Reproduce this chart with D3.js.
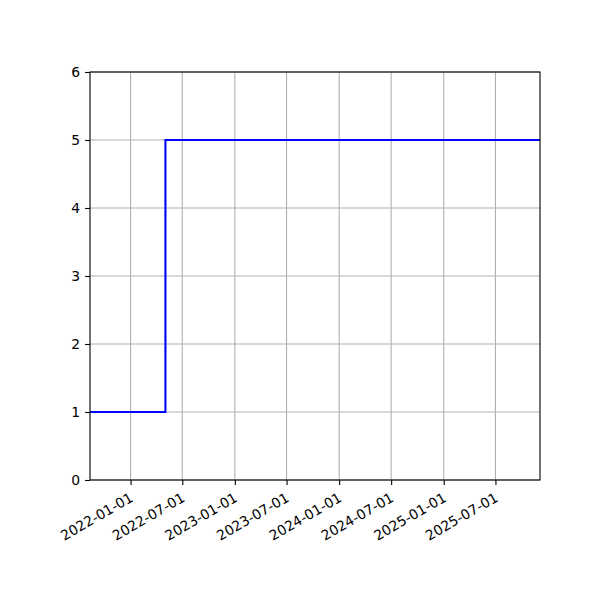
<!DOCTYPE html>
<html>
<head>
<meta charset="utf-8">
<script src="https://cdn.jsdelivr.net/npm/d3@7.9.0/dist/d3.min.js"></script>
<style>
  body { margin: 0; background: #fff; }
  svg text { font-family: "DejaVu Sans", sans-serif; font-size: 13.9px; fill: #000; }
</style>
</head>
<body>
<svg id="chart" width="600" height="600"></svg>
<script>
const dates = ["2021-08-12", "2022-05-03", "2025-12-04"];
const values = [1, 5, 5];
const xTicks = ["2022-01-01", "2022-07-01", "2023-01-01", "2023-07-01",
  "2024-01-01", "2024-07-01", "2025-01-01", "2025-07-01"];
const yTicks = [0, 1, 2, 3, 4, 5, 6];

const parse = d3.utcParse("%Y-%m-%d");
const points = dates.map((d, i) => ({ date: parse(d), value: values[i] }));

const margin = { top: 72, right: 60, bottom: 120, left: 90 };
const width = 600 - margin.left - margin.right;
const height = 600 - margin.top - margin.bottom;

const svg = d3.select("#chart");
const g = svg.append("g").attr("transform", `translate(${margin.left},${margin.top})`);

const x = d3.scaleUtc()
  .domain([points[0].date, points[points.length - 1].date])
  .range([0, width]);
const y = d3.scaleLinear().domain([0, 6]).range([height, 0]);

const tickDates = xTicks.map(parse);

// grid
g.append("g")
  .selectAll("line")
  .data(tickDates)
  .join("line")
  .attr("x1", (d) => x(d)).attr("x2", (d) => x(d))
  .attr("y1", 0).attr("y2", height)
  .attr("stroke", "#b0b0b0").attr("stroke-width", 1.1);

g.append("g")
  .selectAll("line")
  .data(yTicks)
  .join("line")
  .attr("x1", 0).attr("x2", width)
  .attr("y1", (d) => y(d)).attr("y2", (d) => y(d))
  .attr("stroke", "#b0b0b0").attr("stroke-width", 1.1);

// line
const line = d3.line()
  .x((d) => x(d.date))
  .y((d) => y(d.value))
  .curve(d3.curveStepAfter);

g.append("path")
  .datum(points)
  .attr("d", line)
  .attr("fill", "none")
  .attr("stroke", "#0000ff")
  .attr("stroke-width", 2.1);

// axes
const xAxis = g.append("g")
  .attr("transform", `translate(0,${height})`)
  .call(d3.axisBottom(x).tickValues(tickDates).tickFormat(d3.utcFormat("%Y-%m-%d"))
    .tickSize(4.9).tickPadding(4.9));
xAxis.select(".domain").remove();
xAxis.selectAll("line").attr("stroke", "#000").attr("stroke-width", 1.1);
xAxis.selectAll("text")
  .attr("font-size", null).attr("font-family", null)
  .attr("text-anchor", "end")
  .attr("dy", "0.75em")
  .attr("transform", "translate(-7,3) rotate(-30)");

const yAxis = g.append("g")
  .call(d3.axisLeft(y).tickValues(yTicks).tickFormat(d3.format("d"))
    .tickSize(4.9).tickPadding(4.9));
yAxis.select(".domain").remove();
yAxis.selectAll("line").attr("stroke", "#000").attr("stroke-width", 1.1);
yAxis.selectAll("text").attr("font-size", null).attr("font-family", null);

// spines
g.append("rect")
  .attr("width", width).attr("height", height)
  .attr("fill", "none").attr("stroke", "#000").attr("stroke-width", 1.1);
</script>
</body>
</html>
